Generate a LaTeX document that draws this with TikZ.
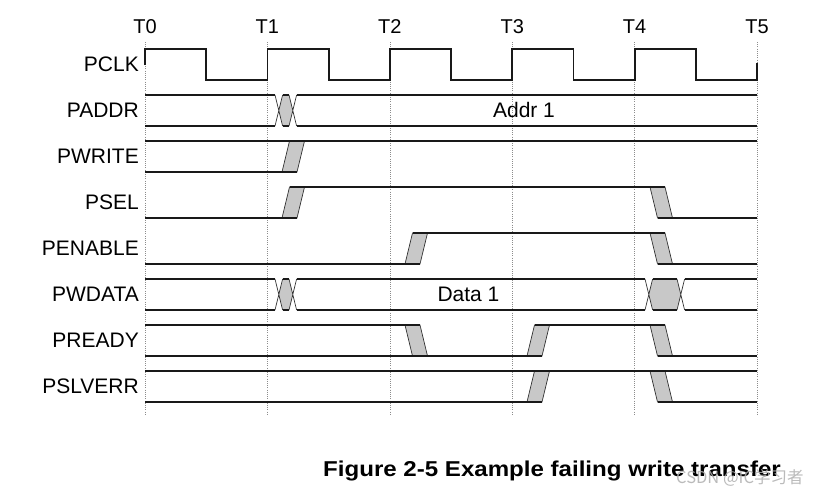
\documentclass[tikz,border=0pt]{standalone}
\usepackage{fontspec}
\setmainfont{Liberation Sans}
\newfontfamily\cjkfont{Noto Sans CJK SC}
\definecolor{trgray}{RGB}{200,200,200}
\definecolor{gridgray}{RGB}{140,140,140}
\definecolor{wmgray}{RGB}{175,175,175}
\newcommand{\busX}[4]{% a b top bottom
  \pgfmathsetmacro\bxA{#1}\pgfmathsetmacro\bxB{#2}%
  \pgfmathsetmacro\bxM{(#3+#4)/2}%
  \pgfmathsetmacro\bxS{#1+3.8}\pgfmathsetmacro\bxT{#1+7.6}%
  \pgfmathsetmacro\bxU{#2+3.8}\pgfmathsetmacro\bxV{#2+7.6}%
  \fill[trgray] (\bxS,\bxM) -- (\bxT,#3) -- (\bxB,#3) -- (\bxU,\bxM) -- (\bxB,#4) -- (\bxT,#4) -- cycle;
  \draw[thinln] (\bxA,#3) -- (\bxT,#4) (\bxA,#4) -- (\bxT,#3) (\bxB,#3) -- (\bxV,#4) (\bxB,#4) -- (\bxV,#3);
  \draw[sig] (\bxT,#3) -- (\bxB,#3) (\bxT,#4) -- (\bxB,#4);
}
\newcommand{\slantTr}[4]{% bottom-left x, top-left x, top, bottom
  \pgfmathsetmacro\slB{#1+15}\pgfmathsetmacro\slT{#2+15}%
  \filldraw[trans] (#1,#4) -- (\slB,#4) -- (\slT,#3) -- (#2,#3) -- cycle;
}
\begin{document}
\begin{tikzpicture}[x=1pt,y=-1pt,
  sig/.style={line width=1.8pt,line join=miter,black!90},
  thinln/.style={line width=0.7pt,black!80},
  trans/.style={fill=trgray,draw=black!80,line width=0.7pt,line join=miter},
  gridln/.style={draw=gridgray,line width=0.6pt,dash pattern=on 0.7pt off 1.5pt},
  lbl/.style={anchor=base east,inner sep=0pt,font=\fontsize{21}{21}\selectfont},
  tlbl/.style={anchor=base,inner sep=0pt,font=\fontsize{20}{20}\selectfont},
  val/.style={anchor=base,inner sep=0pt,font=\fontsize{21}{21}\selectfont}]
\useasboundingbox (0,0) rectangle (818,496);
\fill[white] (0,0) rectangle (818,496);

% time grid and labels
\foreach \x/\n in {145/0,267.4/1,389.8/2,512.2/3,634.6/4,757/5} {
  \draw[gridln] (\x,42) -- (\x,415);
  \node[tlbl] (t\n) at (\x,33) {T\n};
}

% signal names
\node[lbl] (pclk)   at (139,71.5)  {PCLK};
\node[lbl] (paddr)  at (139,117.5) {PADDR};
\node[lbl] (pwrite) at (139,163.5) {PWRITE};
\node[lbl] (psel)   at (139,209.5) {PSEL};
\node[lbl] (penable) at (139,255.5) {PENABLE};
\node[lbl] (pwdata) at (139,301.5) {PWDATA};
\node[lbl] (pready) at (139,347.5) {PREADY};
\node[lbl] (pslverr) at (139,393.5) {PSLVERR};

% PCLK
\draw[sig] (145,65) -- (145,49) -- (206.2,49) -- (206.2,80) -- (267.4,80) -- (267.4,49)
  -- (328.6,49) -- (328.6,80) -- (389.8,80) -- (389.8,49) -- (451,49) -- (451,80)
  -- (512.2,80) -- (512.2,49) -- (573.4,49) -- (573.4,80) -- (634.6,80) -- (634.6,49)
  -- (695.8,49) -- (695.8,80) -- (757,80) -- (757,63);

% PADDR
\busX{275}{289}{95}{126}
\draw[sig] (145,95) -- (275,95) (145,126) -- (275,126)
  (296.6,95) -- (757,95) (296.6,126) -- (757,126);
\node[val] (addr) at (524,117.5) {Addr 1};

% PWRITE
\slantTr{282}{289.5}{141}{172}
\draw[sig] (145,141) -- (757,141) (145,172) -- (297,172);

% PSEL
\slantTr{282}{289.5}{187}{218}
\slantTr{657.5}{650}{187}{218}
\draw[sig] (145,218) -- (297,218) (289.5,187) -- (665,187) (657.5,218) -- (757,218);

% PENABLE
\slantTr{405}{412.5}{233}{264}
\slantTr{657.5}{650}{233}{264}
\draw[sig] (145,264) -- (420,264) (412.5,233) -- (665,233) (657.5,264) -- (757,264);

% PWDATA
\busX{275}{289}{279}{310}
\busX{645}{677}{279}{310}
\draw[sig] (145,279) -- (275,279) (145,310) -- (275,310)
  (296.6,279) -- (645,279) (296.6,310) -- (645,310)
  (684.6,279) -- (757,279) (684.6,310) -- (757,310);
\node[val] (data) at (468.5,301.5) {Data 1};

% PREADY
\slantTr{412.5}{405}{325}{356}
\slantTr{527}{534.5}{325}{356}
\slantTr{657.5}{650}{325}{356}
\draw[sig] (145,325) -- (420,325) (145,356) -- (542,356)
  (534.5,325) -- (665,325) (657.5,356) -- (757,356);

% PSLVERR
\slantTr{527}{534.5}{371}{402}
\slantTr{657.5}{650}{371}{402}
\draw[sig] (145,371) -- (757,371) (145,402) -- (542,402) (657.5,402) -- (757,402);

% caption and watermark
\node[anchor=base west,inner sep=0pt] (cap) at (323,476)
  {\scalebox{1.12}[1]{\fontsize{21.5}{21.5}\selectfont\bfseries Figure 2-5 Example failing write transfer}};
\node[anchor=base west,inner sep=0pt,text=wmgray,opacity=0.85] (wm) at (676,483)
  {\fontsize{16.5}{16.5}\selectfont\cjkfont CSDN @IC学习者};
\end{tikzpicture}
\end{document}
